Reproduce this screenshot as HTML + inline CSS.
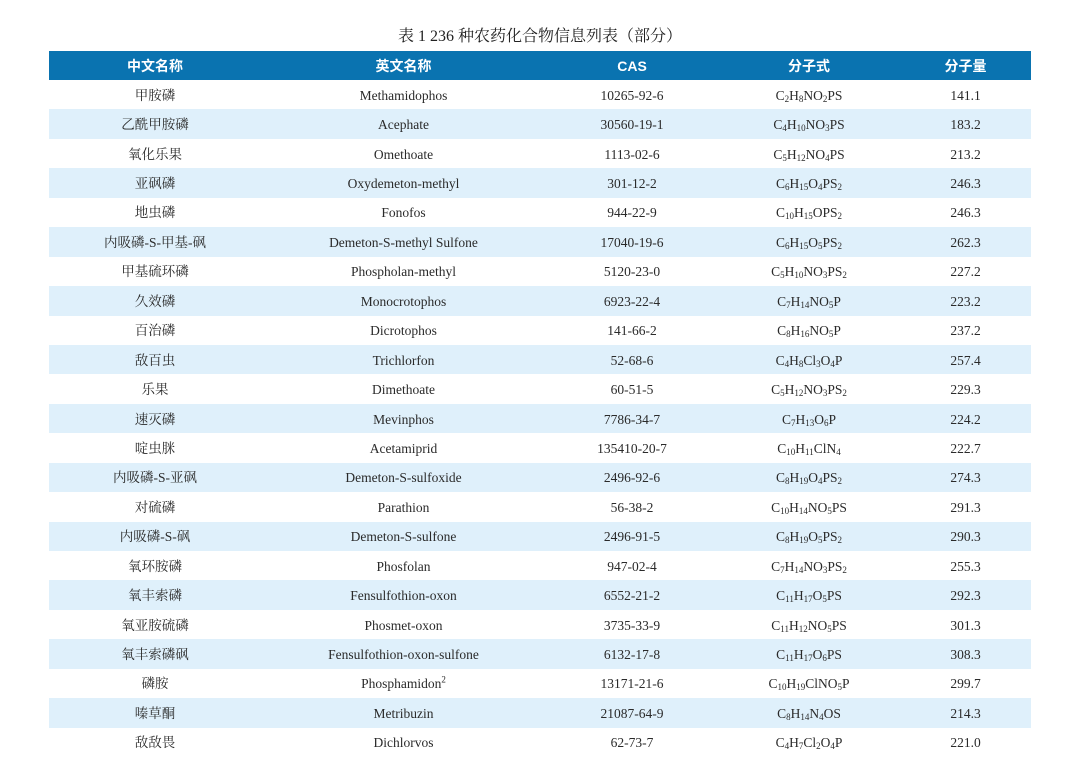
<!DOCTYPE html>
<html><head><meta charset="utf-8"><style>
body{margin:0;width:1080px;height:777px;background:#fff;overflow:hidden;font-family:"Liberation Serif","Noto Serif CJK SC",serif;color:#222}
.title{position:absolute;top:23px;left:0;width:1080px;text-align:center;font-size:16px;}
table{position:absolute;left:49px;top:51px;width:982px;border-collapse:collapse;table-layout:fixed}
th{background:#0a73b0;color:#fff;font-family:"Liberation Sans","Noto Sans CJK SC",sans-serif;font-weight:bold;font-size:14px;height:29px;padding:0}
td{height:29.45px;padding:0;padding-top:2px;box-sizing:border-box;text-align:center;font-size:13.5px;line-height:14px;font-weight:normal;color:#2a2a2a}
tr:nth-child(even) td{background:#dff0fb}
sub{font-size:9px;vertical-align:-2px;line-height:0}
sup{font-size:9px;line-height:0}
</style></head><body>
<div class="title">表 1 236 种农药化合物信息列表（部分）</div>
<table>
<colgroup><col style="width:212px"><col style="width:285px"><col style="width:172px"><col style="width:182px"><col style="width:131px"></colgroup>
<thead><tr><th>中文名称</th><th>英文名称</th><th>CAS</th><th>分子式</th><th>分子量</th></tr></thead>
<tbody>
<tr><td>甲胺磷</td><td>Methamidophos</td><td>10265-92-6</td><td>C<sub>2</sub>H<sub>8</sub>NO<sub>2</sub>PS</td><td>141.1</td></tr>
<tr><td>乙酰甲胺磷</td><td>Acephate</td><td>30560-19-1</td><td>C<sub>4</sub>H<sub>10</sub>NO<sub>3</sub>PS</td><td>183.2</td></tr>
<tr><td>氧化乐果</td><td>Omethoate</td><td>1113-02-6</td><td>C<sub>5</sub>H<sub>12</sub>NO<sub>4</sub>PS</td><td>213.2</td></tr>
<tr><td>亚砜磷</td><td>Oxydemeton-methyl</td><td>301-12-2</td><td>C<sub>6</sub>H<sub>15</sub>O<sub>4</sub>PS<sub>2</sub></td><td>246.3</td></tr>
<tr><td>地虫磷</td><td>Fonofos</td><td>944-22-9</td><td>C<sub>10</sub>H<sub>15</sub>OPS<sub>2</sub></td><td>246.3</td></tr>
<tr><td>内吸磷-S-甲基-砜</td><td>Demeton-S-methyl Sulfone</td><td>17040-19-6</td><td>C<sub>6</sub>H<sub>15</sub>O<sub>5</sub>PS<sub>2</sub></td><td>262.3</td></tr>
<tr><td>甲基硫环磷</td><td>Phospholan-methyl</td><td>5120-23-0</td><td>C<sub>5</sub>H<sub>10</sub>NO<sub>3</sub>PS<sub>2</sub></td><td>227.2</td></tr>
<tr><td>久效磷</td><td>Monocrotophos</td><td>6923-22-4</td><td>C<sub>7</sub>H<sub>14</sub>NO<sub>5</sub>P</td><td>223.2</td></tr>
<tr><td>百治磷</td><td>Dicrotophos</td><td>141-66-2</td><td>C<sub>8</sub>H<sub>16</sub>NO<sub>5</sub>P</td><td>237.2</td></tr>
<tr><td>敌百虫</td><td>Trichlorfon</td><td>52-68-6</td><td>C<sub>4</sub>H<sub>8</sub>Cl<sub>3</sub>O<sub>4</sub>P</td><td>257.4</td></tr>
<tr><td>乐果</td><td>Dimethoate</td><td>60-51-5</td><td>C<sub>5</sub>H<sub>12</sub>NO<sub>3</sub>PS<sub>2</sub></td><td>229.3</td></tr>
<tr><td>速灭磷</td><td>Mevinphos</td><td>7786-34-7</td><td>C<sub>7</sub>H<sub>13</sub>O<sub>6</sub>P</td><td>224.2</td></tr>
<tr><td>啶虫脒</td><td>Acetamiprid</td><td>135410-20-7</td><td>C<sub>10</sub>H<sub>11</sub>ClN<sub>4</sub></td><td>222.7</td></tr>
<tr><td>内吸磷-S-亚砜</td><td>Demeton-S-sulfoxide</td><td>2496-92-6</td><td>C<sub>8</sub>H<sub>19</sub>O<sub>4</sub>PS<sub>2</sub></td><td>274.3</td></tr>
<tr><td>对硫磷</td><td>Parathion</td><td>56-38-2</td><td>C<sub>10</sub>H<sub>14</sub>NO<sub>5</sub>PS</td><td>291.3</td></tr>
<tr><td>内吸磷-S-砜</td><td>Demeton-S-sulfone</td><td>2496-91-5</td><td>C<sub>8</sub>H<sub>19</sub>O<sub>5</sub>PS<sub>2</sub></td><td>290.3</td></tr>
<tr><td>氧环胺磷</td><td>Phosfolan</td><td>947-02-4</td><td>C<sub>7</sub>H<sub>14</sub>NO<sub>3</sub>PS<sub>2</sub></td><td>255.3</td></tr>
<tr><td>氧丰索磷</td><td>Fensulfothion-oxon</td><td>6552-21-2</td><td>C<sub>11</sub>H<sub>17</sub>O<sub>5</sub>PS</td><td>292.3</td></tr>
<tr><td>氧亚胺硫磷</td><td>Phosmet-oxon</td><td>3735-33-9</td><td>C<sub>11</sub>H<sub>12</sub>NO<sub>5</sub>PS</td><td>301.3</td></tr>
<tr><td>氧丰索磷砜</td><td>Fensulfothion-oxon-sulfone</td><td>6132-17-8</td><td>C<sub>11</sub>H<sub>17</sub>O<sub>6</sub>PS</td><td>308.3</td></tr>
<tr><td>磷胺</td><td>Phosphamidon<sup>2</sup></td><td>13171-21-6</td><td>C<sub>10</sub>H<sub>19</sub>ClNO<sub>5</sub>P</td><td>299.7</td></tr>
<tr><td>嗪草酮</td><td>Metribuzin</td><td>21087-64-9</td><td>C<sub>8</sub>H<sub>14</sub>N<sub>4</sub>OS</td><td>214.3</td></tr>
<tr><td>敌敌畏</td><td>Dichlorvos</td><td>62-73-7</td><td>C<sub>4</sub>H<sub>7</sub>Cl<sub>2</sub>O<sub>4</sub>P</td><td>221.0</td></tr>
</tbody></table>
</body></html>
